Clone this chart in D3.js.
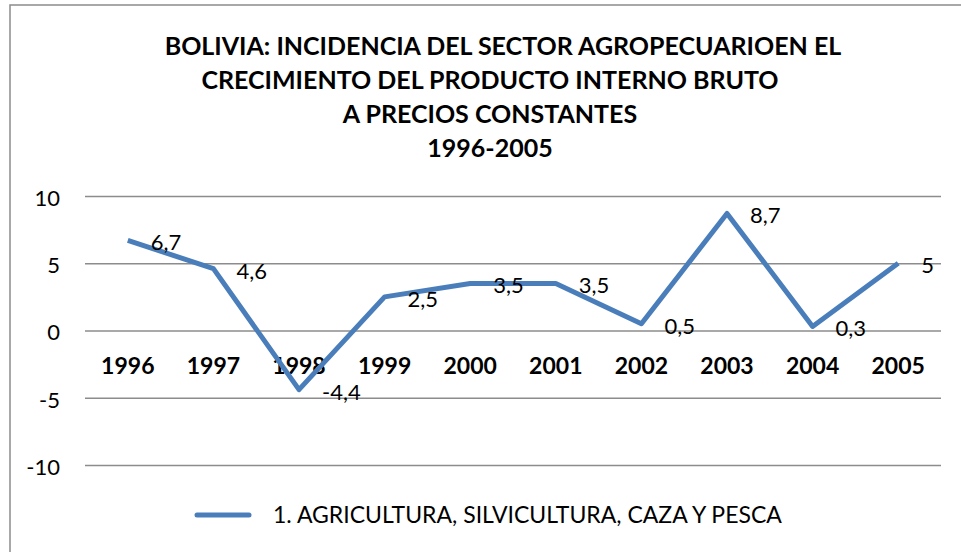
<!DOCTYPE html>
<html>
<head>
<meta charset="utf-8">
<script src="https://cdn.jsdelivr.net/npm/d3@7"></script>
<style>
  body { margin: 0; background: #fff; }
  svg { font-family: Lato, "Open Sans", sans-serif; }
</style>
</head>
<body>
<div id="chart"></div>
<script>
var years = ["1996", "1997", "1998", "1999", "2000", "2001", "2002", "2003", "2004", "2005"]
var values = [6.7, 4.6, -4.4, 2.5, 3.5, 3.5, 0.5, 8.7, 0.3, 5]
var yTicks = [-10, -5, 0, 5, 10]
var titleLines = [
  "BOLIVIA: INCIDENCIA DEL SECTOR AGROPECUARIOEN EL",
  "CRECIMIENTO DEL PRODUCTO INTERNO BRUTO",
  "A PRECIOS CONSTANTES",
  "1996-2005"
]
var seriesName = "1. AGRICULTURA, SILVICULTURA, CAZA Y PESCA"

var width = 961, height = 552
var margin = {top: 196, right: 20, bottom: 87, left: 85}
var plotW = 941 - margin.left,
    plotH = 465 - margin.top

var svg = d3.select("#chart").append("svg")
  .attr("width", width)
  .attr("height", height)

// chart border
svg.append("rect")
  .attr("x", 10).attr("y", 5)
  .attr("width", 960).attr("height", 560)
  .attr("fill", "none")
  .attr("stroke", "#8c8c8c")
  .attr("stroke-width", 1.5)

// title
svg.append("g").selectAll("text")
  .data(titleLines)
  .enter().append("text")
  .attr("x", (d, i) => i == 0 ? 503 : 490)
  .attr("y", (d, i) => 55 + i * 34)
  .attr("text-anchor", "middle")
  .attr("font-weight", "bold")
  .attr("font-size", 25)
  .attr("fill", "#000")
  .text(d => d)

var g = svg.append("g")
  .attr("transform", "translate(" + margin.left + "," + margin.top + ")")

var x = d3.scaleBand().domain(years).range([0, plotW])
var y = d3.scaleLinear().domain([-10, 10]).range([plotH, 0])

// gridlines + y labels
var yAxis = g.append("g")
  .call(d3.axisLeft(y).tickValues(yTicks).tickSize(-plotW).tickPadding(25).tickFormat(d3.format("d")))
yAxis.select(".domain").remove()
yAxis.selectAll("line").attr("stroke", "#8c8c8c").attr("stroke-width", 1.5)
yAxis.selectAll("text")
  .attr("font-family", "Lato, sans-serif")
  .attr("font-size", 22)
  .attr("fill", "#000")
  .attr("dy", "0.42em")
  .text(d => d < 0 ? "-" + Math.abs(d) : d)

// category labels sit below the zero line
var xAxis = g.append("g")
  .attr("transform", "translate(0," + y(0) + ")")
  .call(d3.axisBottom(x).tickSize(0).tickPadding(0))
xAxis.select(".domain").remove()
xAxis.selectAll("text")
  .attr("font-family", "Lato, sans-serif")
  .attr("font-size", 23)
  .attr("font-weight", "bold")
  .attr("fill", "#000")
  .attr("dy", null)
  .attr("y", 43)

var cx = d => x(d) + x.bandwidth() / 2

var line = d3.line()
  .x((d, i) => cx(years[i]))
  .y(d => y(d))

g.append("path")
  .datum(values)
  .attr("d", line)
  .attr("fill", "none")
  .attr("stroke", "#4a7ebb")
  .attr("stroke-width", 5)
  .attr("stroke-linejoin", "round")

// data labels
g.selectAll(".lbl")
  .data(values)
  .enter().append("text")
  .attr("class", "lbl")
  .attr("x", (d, i) => cx(years[i]) + 23)
  .attr("y", d => y(d) + 10)
  .attr("font-size", 22)
  .attr("fill", "#000")
  .text(d => String(d).replace(".", ","))

// legend
var legend = svg.append("g")
legend.append("line")
  .attr("x1", 197).attr("x2", 249)
  .attr("y1", 515).attr("y2", 515)
  .attr("stroke", "#4a7ebb")
  .attr("stroke-width", 5)
  .attr("stroke-linecap", "round")
legend.append("text")
  .attr("x", 273).attr("y", 523)
  .attr("font-size", 23)
  .attr("fill", "#000")
  .text(seriesName)
</script>
</body>
</html>
